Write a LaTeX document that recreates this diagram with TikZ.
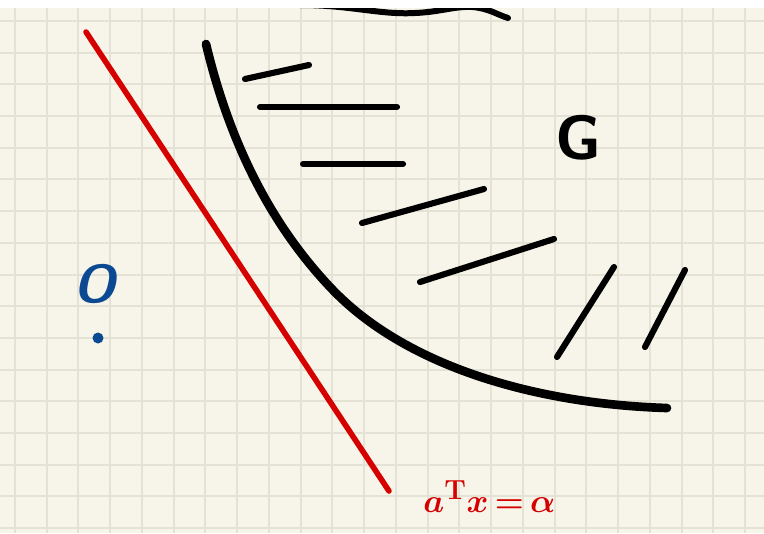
\documentclass[tikz,border=0pt]{standalone}
\definecolor{paper}{HTML}{F7F5E9}
\definecolor{gridc}{HTML}{E4E2D4}
\definecolor{redl}{HTML}{D50000}
\definecolor{bluel}{HTML}{0B4A92}
\tikzset{
  gridline/.style={gridc, line width=1.5},
  boundary/.style={black, line width=6.5, line cap=round, line join=round},
  hatch/.style={black, line width=4.6, line cap=round},
  redline/.style={redl, line width=4.2, line cap=round},
}
\begin{document}
\begin{tikzpicture}[x=0.75pt,y=-0.75pt]
\useasboundingbox (0,0) rectangle (764,533);
\fill[paper] (0,0) rectangle (764,533);
\foreach \i in {0,...,23} \draw[gridline] ({15+31.74*\i},0) -- ({15+31.74*\i},533);
\foreach \j in {0,...,16} \draw[gridline] (0,{21+31.69*\j}) -- (764,{21+31.69*\j});
% top wavy line (partly hidden by the white band)
\draw[black, line width=4.5, line cap=round] (300,5) .. controls (350,5) and (380,15) .. (415,13) .. controls (440,12) and (455,6) .. (472,7) .. controls (488,8) and (498,15) .. (508,18);
\fill[white] (0,0) rectangle (764,8);
% red supporting line
\draw[redline] (86,32) -- (389,491);
% boundary of G
\draw[boundary] (206,44) .. controls (234,161) and (282,236) .. (330,287) .. controls (405,367) and (537,404) .. (667,408);
% hatching
\draw[hatch] (245,79) -- (309,65);
\draw[hatch] (260,107) -- (397,107);
\draw[hatch] (303,164) -- (403,164);
\draw[hatch] (362,223) -- (484,189);
\draw[hatch] (420,282) -- (554,239);
\draw[hatch] (557,357) -- (614,267);
\draw[hatch] (645,347) -- (685,270);
% labels
\node[inner sep=0, text=black, font=\fontsize{47}{50}\selectfont\sffamily\bfseries] (G) at (578,138) {G};
\node[inner sep=0, text=bluel, font=\fontsize{40}{44}\selectfont\sffamily\bfseries\slshape] (O) at (95,284) {O};
\fill[bluel] (98,338) circle[radius=5.5];
\node[inner sep=0, anchor=base west, text=redl, font={\boldmath\fontsize{31}{34}\selectfont}] (lbl) at (423,512) {$a^{\mathrm{T}}x\,{=}\,\alpha$};
\end{tikzpicture}
\end{document}
